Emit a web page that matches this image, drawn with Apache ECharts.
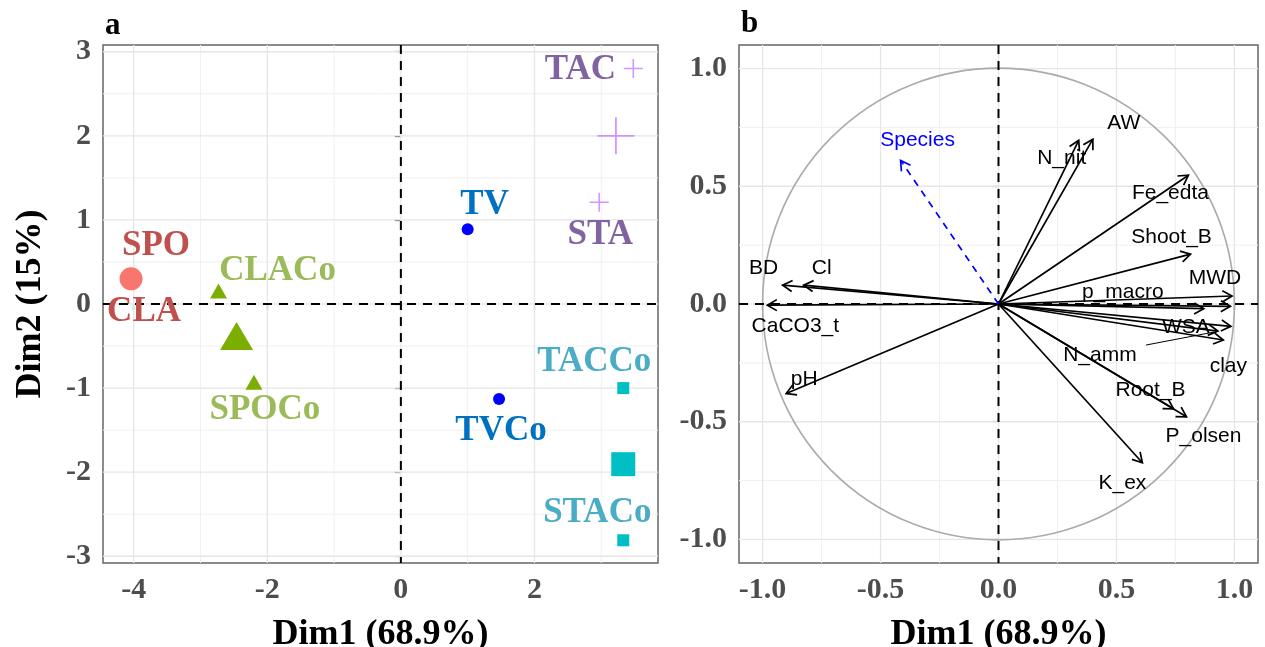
<!DOCTYPE html>
<html>
<head>
<meta charset="utf-8">
<script src="https://cdn.jsdelivr.net/npm/echarts@6/dist/echarts.min.js"></script>
<style>html,body{margin:0;padding:0;background:#fff;}#chart{width:1265px;height:647px;}</style>
</head>
<body>
<div id="chart"></div>
<script>
// ---------- Panel a: individuals ----------
const indNames = ['SPO', 'CLA', 'CLACo', 'SPOCo', 'TAC', 'STA', 'TACCo', 'STACo', 'TV', 'TVCo'];
const indGroup = [0, 0, 1, 1, 2, 2, 3, 3, 4, 4];
const indDim1 = [-4.04, -4.04, -2.73, -2.20, 3.48, 2.97, 3.33, 3.33, 1.00, 1.47];
const indDim2 = [0.30, 0.30, 0.155, -0.93, 2.80, 1.21, -1.00, -2.81, 0.89, -1.13];
const centroidGroup = [0, 1, 2, 3];
const centroidDim1 = [-4.04, -2.46, 3.22, 3.33];
const centroidDim2 = [0.30, -0.38, 2.00, -1.905];
const aXTicks = [-4, -2, 0, 2];
const aXMinor = [-3, -1, 1, 3];
const aYTicks = [-3, -2, -1, 0, 1, 2, 3];
const aYMinor = [-2.5, -1.5, -0.5, 0.5, 1.5, 2.5];

// ---------- Panel b: variables ----------
const varNames = ['BD', 'Cl', 'CaCO3_t', 'pH', 'AW', 'N_nit', 'Fe_edta', 'Shoot_B', 'MWD', 'p_macro', '', 'WSA', 'N_amm', 'clay', 'Root_B', 'P_olsen', 'K_ex'];
const varDim1 = [-0.915, -0.826, -0.98, -0.90, 0.40, 0.34, 0.805, 0.814, 0.99, 0.87, 0.983, 0.985, 0.93, 0.953, 0.742, 0.797, 0.61];
const varDim2 = [0.08, 0.08, -0.005, -0.38, 0.70, 0.695, 0.547, 0.212, 0.034, -0.02, -0.01, -0.095, -0.115, -0.153, -0.445, -0.479, -0.674];
const suppNames = ['Species'];
const suppDim1 = [-0.415];
const suppDim2 = [0.61];
const bTicks = [-1, -0.5, 0, 0.5, 1];
const bMinor = [-0.75, -0.25, 0.25, 0.75];

// ---------- styles (not data) ----------
const pointColors = ['#F8766D', '#7CAE00', '#C77CFF', '#00BFC4', '#0000FF'];
const labelColors = ['#C0504D', '#9BBB59', '#8064A2', '#4BACC6', '#0070C0'];
const indLabelOffset = [[25, -33], [13, 33], [59, -20], [11, 28], [-53, 1], [1, 33], [-29, -26], [-26, -27], [17, -24], [2, 32]];
const varLabelOffset = [[-19, -17], [18, -17], [28, 21], [18, -14], [31, -16], [-17, 18], [-18, 18], [-19, -17], [-17, -18], [-81, -17], [0, 0], [-45, 1], [-118, 24], [5, 26], [-23, -19], [17, 19], [-20, 21]];
const varSegment = {12: [-72, 14]};
const suppLabelOffset = [[17, -20]];
const PLUS = 'path://M10,0L10,20M0,10L20,10';
const groupSymbol = ['circle', 'triangle', PLUS, 'rect', 'circle'];
const smallSize = [[11, 11], [17, 15], [19, 19], [12, 12], [12, 12]];
const bigSize = [[23, 23], [33, 28], [37, 37], [24, 24], [24, 24]];

const SERIF = '"Liberation Serif","Times New Roman",serif';
const SANS = '"Liberation Sans",Arial,sans-serif';

function lineSeries(gi, values, dir, style, z) {
  return {
    type: 'custom', xAxisIndex: gi, yAxisIndex: gi, z: z, silent: true, clip: false,
    data: values.map(v => [v]),
    renderItem: function (params, api) {
      const v = api.value(0);
      const cs = params.coordSys;
      if (dir === 'v') {
        const x = api.coord([v, 0])[0];
        return {type: 'line', shape: {x1: x, y1: cs.y, x2: x, y2: cs.y + cs.height}, style: style};
      }
      const y = api.coord([0, v])[1];
      return {type: 'line', shape: {x1: cs.x, y1: y, x2: cs.x + cs.width, y2: y}, style: style};
    }
  };
}

const majorStyle = {stroke: '#e6e6e6', lineWidth: 1.3};
const minorStyle = {stroke: '#f0f0f0', lineWidth: 1};
const zeroStyle = {stroke: '#000', lineWidth: 2, lineDash: [9, 7]};

function axisCommon(ticks, fmt) {
  return {
    type: 'value',
    axisLine: {show: false},
    splitLine: {show: false},
    axisTick: {show: true, customValues: ticks, length: 6, lineStyle: {color: '#444', width: 1.2}},
    axisLabel: {customValues: ticks, formatter: fmt, color: '#4d4d4d', fontFamily: SERIF, fontWeight: 'bold', fontSize: 30, margin: 12}
  };
}

const series = [];
// panel a grid lines
series.push(lineSeries(0, aXMinor, 'v', minorStyle, 1));
series.push(lineSeries(0, aYMinor, 'h', minorStyle, 1));
series.push(lineSeries(0, aXTicks, 'v', majorStyle, 1));
series.push(lineSeries(0, aYTicks, 'h', majorStyle, 1));
series.push(lineSeries(0, [0], 'v', zeroStyle, 2));
series.push(lineSeries(0, [0], 'h', zeroStyle, 2));
// panel a points per group
for (let g = 0; g < 5; g++) {
  const pts = [];
  indDim1.forEach((x, i) => { if (indGroup[i] === g) pts.push([x, indDim2[i]]); });
  const isPlus = g === 2;
  series.push({
    type: 'scatter', xAxisIndex: 0, yAxisIndex: 0, z: 3, silent: true,
    symbol: groupSymbol[g], symbolSize: smallSize[g], data: pts,
    itemStyle: isPlus ? {color: 'rgba(0,0,0,0)', borderColor: pointColors[g], borderWidth: 1.6} : {color: pointColors[g], opacity: 1}
  });
}
// centroids
centroidGroup.forEach((g, k) => {
  const isPlus = g === 2;
  series.push({
    type: 'scatter', xAxisIndex: 0, yAxisIndex: 0, z: 3, silent: true,
    symbol: groupSymbol[g], symbolSize: bigSize[g], data: [[centroidDim1[k], centroidDim2[k]]],
    itemStyle: isPlus ? {color: 'rgba(0,0,0,0)', borderColor: pointColors[g], borderWidth: 1.8} : {color: pointColors[g], opacity: 1}
  });
});
// labels panel a
series.push({
  type: 'custom', xAxisIndex: 0, yAxisIndex: 0, z: 4, silent: true,
  data: indDim1.map((x, i) => [x, indDim2[i]]),
  renderItem: function (params, api) {
    const i = params.dataIndex;
    const p = api.coord([api.value(0), api.value(1)]);
    const o = indLabelOffset[i];
    return {type: 'text', x: p[0] + o[0], y: p[1] + o[1], style: {
      text: indNames[i], fill: labelColors[indGroup[i]], font: 'bold 35px ' + SERIF,
      textAlign: 'center', textVerticalAlign: 'middle'}};
  }
});

// panel b grid lines
series.push(lineSeries(1, bMinor, 'v', minorStyle, 1));
series.push(lineSeries(1, bMinor, 'h', minorStyle, 1));
series.push(lineSeries(1, bTicks, 'v', majorStyle, 1));
series.push(lineSeries(1, bTicks, 'h', majorStyle, 1));
// correlation circle (radius 1)
series.push({
  type: 'custom', xAxisIndex: 1, yAxisIndex: 1, z: 2, silent: true,
  data: [[0, 0]],
  renderItem: function (params, api) {
    const c = api.coord([0, 0]);
    const r = api.size([1, 1])[0];
    return {type: 'circle', shape: {cx: c[0], cy: c[1], r: r}, style: {stroke: '#ababab', lineWidth: 1.6, fill: null}};
  }
});
series.push(lineSeries(1, [0], 'v', zeroStyle, 2));
series.push(lineSeries(1, [0], 'h', zeroStyle, 2));

function arrowSeries(d1, d2, names, offsets, color, dash, segs) {
  return {
    type: 'custom', xAxisIndex: 1, yAxisIndex: 1, z: 3, silent: true,
    data: d1.map((x, i) => [x, d2[i]]),
    renderItem: function (params, api) {
      const i = params.dataIndex;
      const o = api.coord([0, 0]);
      const t = api.coord([api.value(0), api.value(1)]);
      const ang = Math.atan2(t[1] - o[1], t[0] - o[0]);
      const L = 11, a = Math.PI / 6;
      const h1 = [t[0] - L * Math.cos(ang - a), t[1] - L * Math.sin(ang - a)];
      const h2 = [t[0] - L * Math.cos(ang + a), t[1] - L * Math.sin(ang + a)];
      const st = {stroke: color, lineWidth: 1.7, fill: null};
      const lst = dash ? {stroke: color, lineWidth: 1.7, lineDash: [7, 6]} : st;
      const children = [
        {type: 'line', shape: {x1: o[0], y1: o[1], x2: t[0], y2: t[1]}, style: lst},
        {type: 'polyline', shape: {points: [h1, t, h2]}, style: st}
      ];
      if (names[i]) {
        children.push({type: 'text', x: t[0] + offsets[i][0], y: t[1] + offsets[i][1], z2: 5, style: {
          text: names[i], fill: color, font: '21px ' + SANS, textAlign: 'center', textVerticalAlign: 'middle'}});
      }
      if (segs && segs[i]) {
        children.push({type: 'line', shape: {x1: t[0] + segs[i][0], y1: t[1] + segs[i][1], x2: t[0] - 4, y2: t[1] + 1}, style: {stroke: color, lineWidth: 1}});
      }
      return {type: 'group', children: children};
    }
  };
}
series.push(arrowSeries(varDim1, varDim2, varNames, varLabelOffset, '#000', false, varSegment));
series.push(arrowSeries(suppDim1, suppDim2, suppNames, suppLabelOffset, '#0000FF', true, null));

const chart = echarts.init(document.getElementById('chart'), null, {renderer: 'canvas'});
chart.setOption({
  animation: false,
  backgroundColor: '#fff',
  title: [
    {text: 'a', left: 100, top: 5, textStyle: {fontFamily: SERIF, fontWeight: 'bold', fontSize: 31, color: '#000'}},
    {text: 'b', left: 736, top: 3, textStyle: {fontFamily: SERIF, fontWeight: 'bold', fontSize: 31, color: '#000'}}
  ],
  grid: [
    {left: 103, top: 45, width: 555, height: 518, containLabel: false, outerBoundsMode: 'none', show: true, borderColor: '#666', borderWidth: 1.5, backgroundColor: 'transparent'},
    {left: 739, top: 45, width: 519, height: 518, containLabel: false, outerBoundsMode: 'none', show: true, borderColor: '#666', borderWidth: 1.5, backgroundColor: 'transparent'}
  ],
  xAxis: [
    Object.assign(axisCommon(aXTicks, v => String(v)), {gridIndex: 0, min: -4.46, max: 3.85,
      name: 'Dim1 (68.9%)', nameLocation: 'middle', nameGap: 54,
      nameTextStyle: {fontFamily: SERIF, fontWeight: 'bold', fontSize: 36, color: '#000'}}),
    Object.assign(axisCommon(bTicks, v => v.toFixed(1)), {gridIndex: 1, min: -1.1, max: 1.1,
      name: 'Dim1 (68.9%)', nameLocation: 'middle', nameGap: 54,
      nameTextStyle: {fontFamily: SERIF, fontWeight: 'bold', fontSize: 36, color: '#000'}})
  ],
  yAxis: [
    Object.assign(axisCommon(aYTicks, v => String(v)), {gridIndex: 0, min: -3.08, max: 3.08,
      name: 'Dim2 (15%)', nameLocation: 'middle', nameGap: 54,
      nameTextStyle: {fontFamily: SERIF, fontWeight: 'bold', fontSize: 36, color: '#000'}}),
    Object.assign(axisCommon(bTicks, v => v.toFixed(1)), {gridIndex: 1, min: -1.1, max: 1.1})
  ],
  series: series
});
</script>
</body>
</html>
